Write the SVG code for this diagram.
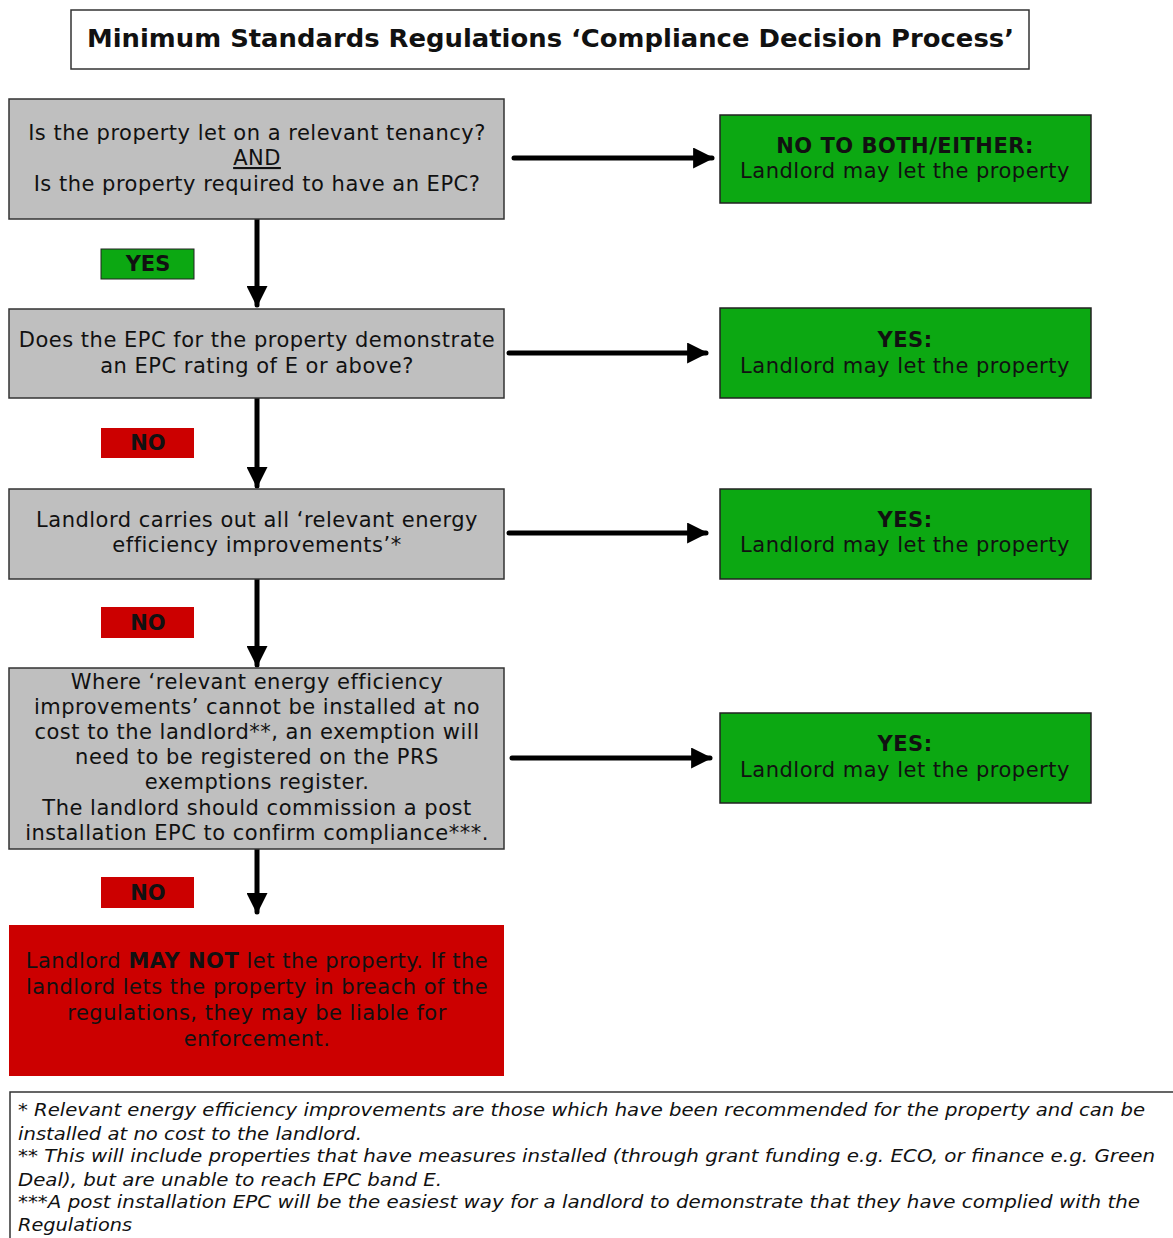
<svg xmlns="http://www.w3.org/2000/svg" width="1173" height="1238" viewBox="0 0 1173 1238">
<defs>
<style>
text{font-family:"DejaVu Sans",Verdana,sans-serif;fill:#111;}
.t{font-size:21px;text-anchor:middle;letter-spacing:0.5px;}
.b{font-weight:bold;}
.grey{fill:#bfbfbf;stroke:#333;stroke-width:1.5;}
.green{fill:#0ca812;stroke:#222;stroke-width:1.5;}
.red{fill:#cc0000;}
.lbl{font-size:21px;font-weight:bold;text-anchor:middle;}
.conn{stroke:#000;stroke-width:5;stroke-linecap:round;fill:none;}
.fn{font-size:17px;font-style:italic;}
</style>
<marker id="ah" viewBox="0 0 10 10" refX="9" refY="5" markerWidth="6" markerHeight="4.2" markerUnits="strokeWidth" orient="auto">
<path d="M0,0 L10,5 L0,10 Z" fill="#000"/>
</marker>
</defs>
<rect width="1173" height="1238" fill="#fff"/>
<g id="title">
<rect x="71" y="10" width="958" height="59" fill="#fff" stroke="#333" stroke-width="1.5"/>
<text x="87" y="47" class="b" style="font-size:24px" textLength="927" lengthAdjust="spacingAndGlyphs">Minimum Standards Regulations ‘Compliance Decision Process’</text>
</g>
<g id="connectors">
<line class="conn" x1="257" y1="219" x2="257" y2="305" marker-end="url(#ah)"/>
<line class="conn" x1="257" y1="398" x2="257" y2="486" marker-end="url(#ah)"/>
<line class="conn" x1="257" y1="579" x2="257" y2="665" marker-end="url(#ah)"/>
<line class="conn" x1="257" y1="849" x2="257" y2="912" marker-end="url(#ah)"/>
<line class="conn" x1="514" y1="158" x2="712" y2="158" marker-end="url(#ah)"/>
<line class="conn" x1="509" y1="353" x2="706" y2="353" marker-end="url(#ah)"/>
<line class="conn" x1="509" y1="533" x2="706" y2="533" marker-end="url(#ah)"/>
<line class="conn" x1="512" y1="758" x2="710" y2="758" marker-end="url(#ah)"/>
</g>
<g id="q1">
<rect class="grey" x="9" y="99" width="495" height="120"/>
<text class="t" x="257" y="140">Is the property let on a relevant tenancy?</text>
<text class="t" x="257" y="165" text-decoration="underline">AND</text>
<text class="t" x="257" y="191">Is the property required to have an EPC?</text>
</g>
<g id="r1">
<rect class="green" x="720" y="115" width="371" height="88"/>
<text class="t b" x="905" y="153">NO TO BOTH/EITHER:</text>
<text class="t" x="905" y="178">Landlord may let the property</text>
</g>
<g id="lbl-yes">
<rect x="101" y="249" width="93" height="30" fill="#0ca812" stroke="#222" stroke-width="1"/>
<text class="lbl" x="148" y="271">YES</text>
</g>
<g id="q2">
<rect class="grey" x="9" y="309" width="495" height="89"/>
<text class="t" x="257" y="347">Does the EPC for the property demonstrate</text>
<text class="t" x="257" y="373">an EPC rating of E or above?</text>
</g>
<g id="r2">
<rect class="green" x="720" y="308" width="371" height="90"/>
<text class="t b" x="905" y="347">YES:</text>
<text class="t" x="905" y="373">Landlord may let the property</text>
</g>
<g id="lbl-no1">
<rect class="red" x="101" y="428" width="93" height="30"/>
<text class="lbl" x="148" y="450">NO</text>
</g>
<g id="q3">
<rect class="grey" x="9" y="489" width="495" height="90"/>
<text class="t" x="257" y="527">Landlord carries out all ‘relevant energy</text>
<text class="t" x="257" y="552">efficiency improvements’*</text>
</g>
<g id="r3">
<rect class="green" x="720" y="489" width="371" height="90"/>
<text class="t b" x="905" y="527">YES:</text>
<text class="t" x="905" y="552">Landlord may let the property</text>
</g>
<g id="lbl-no2">
<rect class="red" x="101" y="607" width="93" height="31"/>
<text class="lbl" x="148" y="630">NO</text>
</g>
<g id="q4">
<rect class="grey" x="9" y="668" width="495" height="181"/>
<text class="t" x="257" y="689">Where ‘relevant energy efficiency</text>
<text class="t" x="257" y="714">improvements’ cannot be installed at no</text>
<text class="t" x="257" y="739">cost to the landlord**, an exemption will</text>
<text class="t" x="257" y="764">need to be registered on the PRS</text>
<text class="t" x="257" y="789">exemptions register.</text>
<text class="t" x="257" y="815">The landlord should commission a post</text>
<text class="t" x="257" y="840">installation EPC to confirm compliance***.</text>
</g>
<g id="r4">
<rect class="green" x="720" y="713" width="371" height="90"/>
<text class="t b" x="905" y="751">YES:</text>
<text class="t" x="905" y="777">Landlord may let the property</text>
</g>
<g id="lbl-no3">
<rect class="red" x="101" y="877" width="93" height="31"/>
<text class="lbl" x="148" y="900">NO</text>
</g>
<g id="final">
<rect class="red" x="9" y="925" width="495" height="151"/>
<text class="t" x="257" y="968">Landlord <tspan class="b">MAY NOT</tspan> let the property. If the</text>
<text class="t" x="257" y="994">landlord lets the property in breach of the</text>
<text class="t" x="257" y="1020">regulations, they may be liable for</text>
<text class="t" x="257" y="1046">enforcement.</text>
</g>
<g id="footnotes">
<rect x="10" y="1092" width="1170" height="160" fill="#fff" stroke="#333" stroke-width="1.5"/>
<text class="fn" x="18" y="1116" textLength="1127" lengthAdjust="spacingAndGlyphs">* Relevant energy efficiency improvements are those which have been recommended for the property and can be</text>
<text class="fn" x="18" y="1140" textLength="344" lengthAdjust="spacingAndGlyphs">installed at no cost to the landlord.</text>
<text class="fn" x="18" y="1162" textLength="1137" lengthAdjust="spacingAndGlyphs">** This will include properties that have measures installed (through grant funding e.g. ECO, or finance e.g. Green</text>
<text class="fn" x="18" y="1186" textLength="424" lengthAdjust="spacingAndGlyphs">Deal), but are unable to reach EPC band E.</text>
<text class="fn" x="18" y="1208" textLength="1122" lengthAdjust="spacingAndGlyphs">***A post installation EPC will be the easiest way for a landlord to demonstrate that they have complied with the</text>
<text class="fn" x="18" y="1231" textLength="114" lengthAdjust="spacingAndGlyphs">Regulations</text>
</g>
</svg>
